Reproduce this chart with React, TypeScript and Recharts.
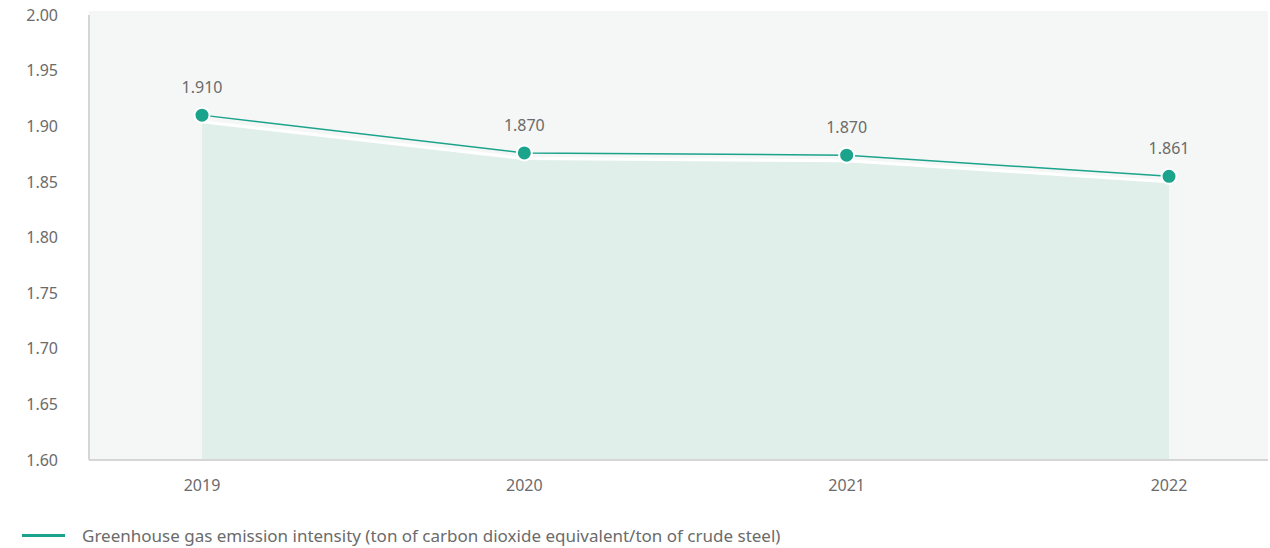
import React from 'react';
import { ComposedChart, Area, Line, XAxis, YAxis, LabelList } from 'recharts';

const years = ['2019', '2020', '2021', '2022'];
// plotted positions (as drawn) and printed labels
const intensity = [1.91, 1.876, 1.874, 1.855];
const intensityLabels = ['1.910', '1.870', '1.870', '1.861'];
const fillValues = [1.904, 1.871, 1.869, 1.85];
const yTicks = [1.6, 1.65, 1.7, 1.75, 1.8, 1.85, 1.9, 1.95, 2.0];

const legendText = 'Greenhouse gas emission intensity (ton of carbon dioxide equivalent/ton of crude steel)';

const TEAL = '#1ba38b';
const TEXT = '#6b6b6b';
const FONT = '"Noto Sans", Roboto, sans-serif';

const data = years.map((year, i) => ({
  year,
  value: intensity[i],
  label: intensityLabels[i],
  fill: fillValues[i],
}));

export default function App() {
  return (
    <div style={{ position: 'absolute', left: 0, top: 0, width: 1270, height: 548, fontFamily: FONT }}>
      {/* plot background */}
      <div style={{ position: 'absolute', left: 89, top: 11, width: 1179, height: 449, background: '#f5f7f6' }} />
      <div style={{ position: 'absolute', left: 0, top: 0 }}>
        <ComposedChart width={1270} height={548} data={data} margin={{ top: 15, right: 2, bottom: 48, left: 0 }}>
          <XAxis
            dataKey="year"
            height={40}
            padding={{ left: 113, right: 99 }}
            axisLine={{ stroke: '#d6d6d6', strokeWidth: 2 }}
            tickLine={false}
            tickMargin={14}
            tick={{ fill: TEXT, fontSize: 16, fontFamily: FONT }}
          />
          <YAxis
            type="number"
            domain={[1.6, 2.0]}
            ticks={yTicks}
            interval={0}
            width={89}
            axisLine={{ stroke: '#d6d6d6', strokeWidth: 2 }}
            tickLine={false}
            tickMargin={25}
            tickFormatter={(v: number) => v.toFixed(2)}
            tick={{ fill: TEXT, fontSize: 16, fontFamily: FONT }}
          />
          <Area
            type="linear"
            dataKey="fill"
            stroke="#ffffff"
            strokeWidth={3}
            fill="#e0efea"
            fillOpacity={1}
            isAnimationActive={false}
          />
          <Line
            type="linear"
            dataKey="value"
            stroke={TEAL}
            strokeWidth={1.5}
            dot={{ r: 7.5, fill: TEAL, stroke: '#ffffff', strokeWidth: 2, fillOpacity: 1 }}
            activeDot={false}
            isAnimationActive={false}
          >
            <LabelList dataKey="label" position="top" offset={22} fill={TEXT} fontSize={16} fontFamily={FONT} />
          </Line>
        </ComposedChart>
      </div>
      {/* legend */}
      <div style={{ position: 'absolute', left: 22, top: 524, height: 22, display: 'flex', alignItems: 'center' }}>
        <div style={{ width: 43, height: 3, background: TEAL }} />
        <span style={{ marginLeft: 17, fontSize: 17, color: TEXT, whiteSpace: 'nowrap' }}>{legendText}</span>
      </div>
    </div>
  );
}
